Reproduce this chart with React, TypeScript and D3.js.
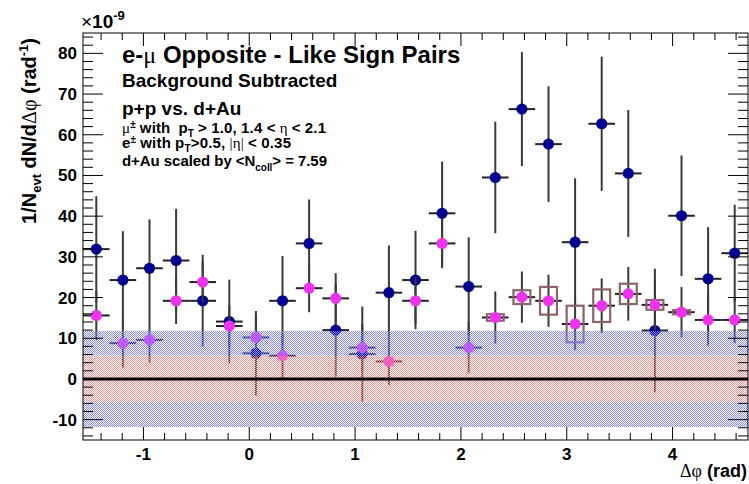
import React from 'react';
import * as d3 from 'd3';

const W = 749;
const H = 484;
const nBins = 25;
const phiMin = -Math.PI / 2;
const phiMax = (3 * Math.PI) / 2;

// p+p (blue)
const ppValues = [31.9, 24.3, 27.2, 29.1, 19.2, 14.1, 6.3, 19.2, 33.3, 12.0, 6.1, 21.2, 24.3, 40.7, 22.7, 49.5, 66.3, 57.7, 33.6, 62.7, 50.5, 11.9, 40.1, 24.6, 30.9];
const ppErrors = [13.0, 12.0, 12.0, 12.7, 11.3, 10.3, 10.4, 11.0, 10.8, 11.4, 11.7, 11.6, 12.1, 12.7, 12.1, 13.7, 14.0, 14.2, 15.7, 16.5, 15.6, 15.2, 14.8, 12.7, 11.9];
// d+Au scaled (magenta)
const dAuValues = [15.6, 8.8, 9.6, 19.2, 23.8, 13.0, 10.2, 5.7, 22.3, 19.8, 7.7, 4.3, 19.2, 33.3, 7.7, 15.1, 20.1, 19.2, 13.5, 18.0, 20.9, 18.2, 16.4, 14.5, 14.5];
const dAuErrors = [6.0, 6.0, 5.6, 5.7, 5.0, 5.0, 5.5, 5.5, 5.9, 6.2, 5.8, 5.8, 5.7, 6.1, 6.3, 6.4, 6.3, 6.4, 6.4, 6.7, 6.6, 6.2, 6.2, 6.3, 5.7];
const dAuSyst = [0, 0, 0, 0, 0, 0, 0, 0, 0, 0, 0, 0, 0, 0, 0, 0.8, 1.7, 3.4, 4.5, 4.0, 2.5, 1.2, 0.5, 0, 0];

const xTickLabels = [-1, 0, 1, 2, 3, 4];
const yTickLabels = [-10, 0, 10, 20, 30, 40, 50, 60, 70, 80];
const bandOuter = 11.8;
const bandInner = 5.7;

const SANS = '"Liberation Sans", Arial, Helvetica, sans-serif';
const SERIF = '"Liberation Serif", "DejaVu Serif", serif';

export default function App() {
  const m = { l: 83, r: 1, t: 33, b: 44 };
  const x = d3.scaleLinear().domain([phiMin, phiMax]).range([m.l, W - m.r]);
  const y = d3.scaleLinear().domain([-15, 85]).range([H - m.b, m.t]);
  const bw = (phiMax - phiMin) / nBins;
  const centers = d3.range(nBins).map((i) => phiMin + (i + 0.5) * bw);
  const xMinor = d3.range(-7, 24).map((k) => k * 0.2).filter((v) => Math.abs(v - Math.round(v)) > 1e-6);
  const yMinor = d3.range(-7, 43).map((k) => k * 2).filter((v) => v % 10 !== 0);
  const x0 = m.l, x1 = W - m.r, y0 = m.t, y1 = H - m.b;
  const boxHalf = 0.08;

  const series = [
    { vals: ppValues, errs: ppErrors, color: '#000090' },
    { vals: dAuValues, errs: dAuErrors, color: '#ee33ee' },
  ];

  return (
    <svg width={W} height={H} style={{ position: 'absolute', left: 0, top: 0, background: '#fff' }} fontFamily={SANS}>
      <defs>
        <pattern id="bluedots" width="2" height="2" patternUnits="userSpaceOnUse">
          <rect x="0" y="0" width="1" height="1" fill="rgb(135,135,255)" />
          <rect x="1" y="1" width="1" height="1" fill="rgb(135,135,255)" />
        </pattern>
        <pattern id="reddots" width="2" height="2" patternUnits="userSpaceOnUse">
          <rect x="0" y="0" width="1" height="1" fill="rgb(252,145,145)" />
          <rect x="1" y="1" width="1" height="1" fill="rgb(252,145,145)" />
        </pattern>
        <clipPath id="frame">
          <rect x={x0} y={y0} width={x1 - x0} height={y1 - y0} />
        </clipPath>
      </defs>
      <rect x={0} y={0} width={W} height={H} fill="#fff" />

      <g clipPath="url(#frame)">
        {series.map((s, si) => (
          <g key={si}>
            {centers.map((c, i) => (
              <g key={i}>
                <line x1={x(c)} x2={x(c)} y1={y(s.vals[i] - s.errs[i])} y2={y(s.vals[i] + s.errs[i])} stroke="#3a3a3a" strokeWidth={2} />
                <line x1={x(c - bw / 2)} x2={x(c + bw / 2)} y1={y(s.vals[i])} y2={y(s.vals[i])} stroke="#222" strokeWidth={2} />
              </g>
            ))}
            {si === 1 &&
              centers.map((c, i) =>
                dAuSyst[i] > 0 ? (
                  <rect key={'b' + i} x={x(c - boxHalf)} y={y(s.vals[i] + dAuSyst[i])} width={x(c + boxHalf) - x(c - boxHalf)} height={y(s.vals[i] - dAuSyst[i]) - y(s.vals[i] + dAuSyst[i])} fill="none" stroke="#8c6468" strokeWidth={2.2} />
                ) : null
              )}
            {centers.map((c, i) => (
              <circle key={'m' + i} cx={x(c)} cy={y(s.vals[i])} r={5.6} fill={s.color} />
            ))}
          </g>
        ))}
        <rect x={x0} y={y(bandOuter)} width={x1 - x0} height={y(bandInner) - y(bandOuter)} fill="url(#bluedots)" />
        <rect x={x0} y={y(-bandInner)} width={x1 - x0} height={y(-bandOuter) - y(-bandInner)} fill="url(#bluedots)" />
        <rect x={x0} y={y(bandInner)} width={x1 - x0} height={y(-bandInner) - y(bandInner)} fill="url(#reddots)" />
        <line x1={x0} x2={x1} y1={y(0)} y2={y(0)} stroke="#000" strokeWidth={3} />
      </g>

      {/* frame and ticks */}
      <rect x={x0} y={y0} width={x1 - x0} height={y1 - y0} fill="none" stroke="#000" strokeWidth={1} />
      <g stroke="#000" strokeWidth={1}>
        {xTickLabels.map((v) => (
          <g key={'xt' + v}>
            <line x1={x(v)} x2={x(v)} y1={y1} y2={y1 - 13} />
            <line x1={x(v)} x2={x(v)} y1={y0} y2={y0 + 13} />
          </g>
        ))}
        {xMinor.map((v, i) => (
          <g key={'xm' + i}>
            <line x1={x(v)} x2={x(v)} y1={y1} y2={y1 - 7} />
            <line x1={x(v)} x2={x(v)} y1={y0} y2={y0 + 7} />
          </g>
        ))}
        {yTickLabels.map((v) => (
          <g key={'yt' + v}>
            <line x1={x0} x2={x0 + 20} y1={y(v)} y2={y(v)} />
            <line x1={x1} x2={x1 - 20} y1={y(v)} y2={y(v)} />
          </g>
        ))}
        {yMinor.map((v, i) => (
          <g key={'ym' + i}>
            <line x1={x0} x2={x0 + 10} y1={y(v)} y2={y(v)} />
            <line x1={x1} x2={x1 - 10} y1={y(v)} y2={y(v)} />
          </g>
        ))}
      </g>

      {/* tick labels */}
      <g fontWeight="bold" fontSize={17} fill="#000">
        {xTickLabels.map((v) => (
          <text key={'xl' + v} x={x(v)} y={460} textAnchor="middle">{v}</text>
        ))}
        {yTickLabels.map((v) => (
          <text key={'yl' + v} x={77} y={y(v) + 6} textAnchor="end">{v}</text>
        ))}
      </g>

      {/* axis titles */}
      <text x={747} y={477} textAnchor="end" fontWeight="bold" fontSize={18}>
        <tspan fontFamily={SERIF} fontWeight="normal">Δφ</tspan> (rad)
      </text>
      <text transform="translate(36,38) rotate(-90)" textAnchor="end" fontWeight="bold" fontSize={20}>
        1/N<tspan fontSize={13} dy={5}>evt</tspan>
        <tspan dy={-5}> dN/d</tspan>
        <tspan fontFamily={SERIF} fontWeight="normal">Δφ</tspan>
        <tspan> (rad</tspan>
        <tspan fontSize={13} dy={-8}>-1</tspan>
        <tspan dy={8}>)</tspan>
      </text>
      <text x={81} y={28} fontSize={19}>
        <tspan fontWeight="normal">×</tspan>
        <tspan fontWeight="bold">10</tspan>
        <tspan fontWeight="bold" fontSize={13} dy={-8}>-9</tspan>
      </text>

      {/* annotations */}
      <g fontWeight="bold" fill="#000">
        <text x={122} y={63} fontSize={24}>
          e-<tspan fontFamily={SERIF} fontWeight="normal">μ</tspan> Opposite - Like Sign Pairs
        </text>
        <text x={122} y={87} fontSize={19}>Background Subtracted</text>
        <text x={122} y={115} fontSize={19}>p+p vs. d+Au</text>
        <text x={122} y={133} fontSize={15} textLength={204} lengthAdjust="spacing">
          <tspan fontFamily={SERIF} fontWeight="normal">μ</tspan>
          <tspan fontSize={10} dy={-5}>±</tspan>
          <tspan dy={5} dx={4}>with</tspan>
          <tspan dx={8}>p</tspan>
          <tspan fontSize={10} dy={4}>T</tspan>
          <tspan dy={-4} dx={4}>{'> 1.0, 1.4 <'}</tspan>
          <tspan dx={4} fontFamily={SERIF} fontWeight="normal">η</tspan>
          <tspan dx={4}>{'< 2.1'}</tspan>
        </text>
        <text x={122} y={148} fontSize={15} textLength={169} lengthAdjust="spacing">
          e<tspan fontSize={10} dy={-5}>±</tspan>
          <tspan dy={5} dx={4}>with</tspan>
          <tspan dx={4}>p</tspan>
          <tspan fontSize={10} dy={4}>T</tspan>
          <tspan dy={-4}>{'>0.5,'}</tspan>
          <tspan dx={4} fontFamily={SERIF} fontWeight="normal">{'|η|'}</tspan>
          <tspan dx={4}>{'< 0.35'}</tspan>
        </text>
        <text x={122} y={166} fontSize={15} textLength={205} lengthAdjust="spacing">
          {'d+Au scaled by <N'}<tspan fontSize={10} dy={5}>coll</tspan>
          <tspan dy={-5}>{'> = 7.59'}</tspan>
        </text>
      </g>
    </svg>
  );
}
